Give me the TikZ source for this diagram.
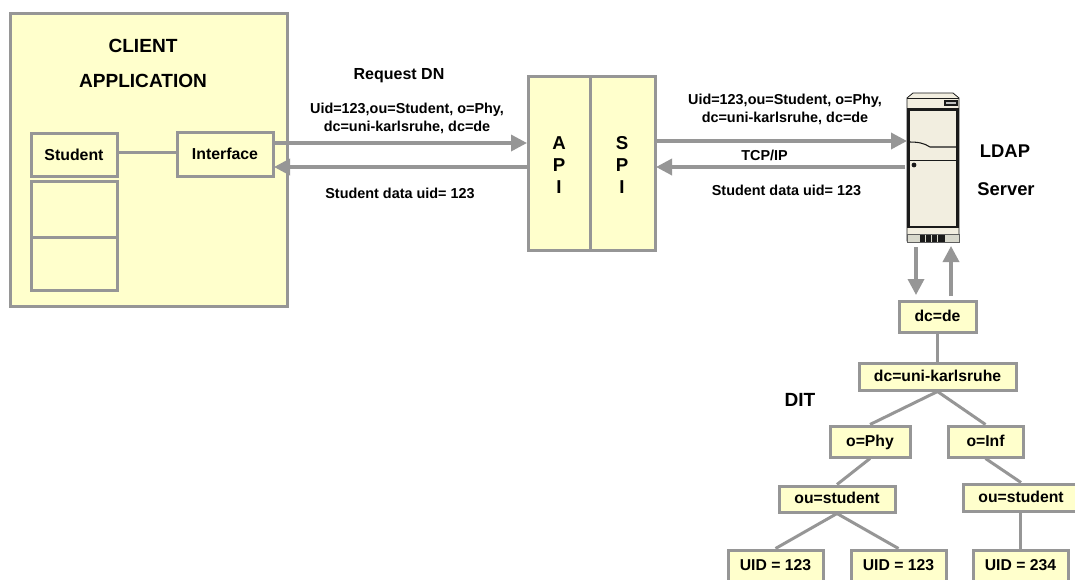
\documentclass[tikz,border=0pt]{standalone}
\usepackage{fontspec}
\setmainfont{Liberation Sans}
\usetikzlibrary{arrows.meta}
\definecolor{boxfill}{HTML}{FFFFCC}
\definecolor{boxline}{HTML}{969696}
\definecolor{srvfill}{HTML}{F2EEE0}
\definecolor{srvdark}{HTML}{1A1A1A}
\definecolor{srvbase}{HTML}{D8D8CC}
\tikzset{
  x=0.75pt,y=-0.75pt,
  pane/.style={draw=boxline,fill=boxfill,line width=2.25pt},
  treebox/.style={draw=boxline,fill=boxfill,line width=2.25pt,font=\bfseries\fontsize{11.8}{13}\selectfont,inner sep=0pt,anchor=center,text height=0.72em,text depth=0pt},
  heading/.style={font=\bfseries\fontsize{14.3}{16}\selectfont,inner sep=0pt,align=center},
  small/.style={font=\bfseries\fontsize{10.8}{13.5}\selectfont,inner sep=0pt,align=center},
  boxtext/.style={font=\bfseries\fontsize{11.9}{14}\selectfont,inner sep=0pt,align=center},
  link/.style={draw=boxline,line width=2.25pt},
  flow/.style={draw=boxline,line width=2.6pt,-{Triangle[length=12pt,width=12pt]}},
}
\newcommand{\tbox}[5]{\node[treebox,minimum width=#3*0.75pt,minimum height=#4*0.75pt] (#1) at (#2) {#5};}
\begin{document}
\begin{tikzpicture}
\useasboundingbox (0,0) rectangle (1075,579);
\clip (0,0) rectangle (1075,579);
% client
\node[pane,minimum width=207.75pt,minimum height=219.75pt,inner sep=0pt] (client) at (148.5,159.5) {};
\node[heading] (t1) at (143,46) {CLIENT};
\node[heading] (t2) at (143,81) {APPLICATION};
\node[pane,minimum width=64.5pt,minimum height=32.25pt,inner sep=0pt,boxtext] (student) at (74,155) {Student};
\node[pane,minimum width=64.5pt,minimum height=42pt,inner sep=0pt] (row2) at (74,209) {};
\node[pane,minimum width=64.5pt,minimum height=39.75pt,inner sep=0pt] (row3) at (74,264) {};
\node[pane,minimum width=72pt,minimum height=33pt,inner sep=0pt,boxtext] (iface) at (225,154) {Interface};
\draw[link] (student.east |- 0,152) -- (iface.west |- 0,152);
% API/SPI
\node[pane,minimum width=46.5pt,minimum height=130.5pt,inner sep=0pt] (api) at (559,163) {};
\node[pane,minimum width=48.75pt,minimum height=130.5pt,inner sep=0pt] (spi) at (622.5,163) {};
\node[heading,align=center,font=\bfseries\fontsize{14}{16.5}\selectfont] (apit) at (559,165) {A\\P\\I};
\node[heading,align=center,font=\bfseries\fontsize{14}{16.5}\selectfont] (spit) at (622,165) {S\\P\\I};
% server
\filldraw[fill=srvfill,draw=srvdark,line width=0.6pt] (907,98) -- (913,93) -- (953,93) -- (959,98) -- (959,241) -- (907,241) -- cycle;
\fill[srvdark] (907,108) rectangle (959,111);
\fill[srvdark] (907,108) rectangle (910,226);
\fill[srvdark] (956,108) rectangle (959,226);
\draw[srvdark,line width=0.6pt] (907,98) -- (959,98);
\draw[srvdark,line width=0.8pt] (945,101) rectangle (957,105);
\fill[boxline!60] (946,102) rectangle (956,104);
\draw[srvdark,line width=0.8pt] (909,142) .. controls (918,142) and (924,143) .. (930,147) -- (957,147);
\draw[srvdark,line width=0.8pt] (909,160.5) -- (957,160.5);
\fill[srvdark] (914,165) circle (2.4);
\fill[srvdark] (907,226) rectangle (959,228);
\filldraw[fill=srvbase,draw=srvdark!70,line width=0.5pt] (907,234) rectangle (959,242);
\fill[srvdark] (920,234.5) rectangle (945,241.5);
\foreach \xx in {925,931,937} \draw[srvbase,line width=0.5pt] (\xx,234.5) -- (\xx,241.5);
\coordinate (srvd) at (916,247);
\coordinate (srvu) at (951,246);
% arrows
\coordinate (a1) at (274,143);\coordinate (a2) at (527,143);
\coordinate (a3) at (527,167);\coordinate (a4) at (274,167);
\coordinate (a5) at (656,141);\coordinate (a6) at (907,141);
\coordinate (a7) at (905,167);\coordinate (a8) at (656,167);
\draw[flow] (a1) -- (a2);
\draw[flow] (a3) -- (a4);
\draw[flow] (a5) -- (a6);
\draw[flow] (a7) -- (a8);
\coordinate (d1) at (916,295);\coordinate (u1) at (951,296);
\draw[flow] (srvd) -- (d1);
\draw[flow] (u1) -- (srvu);
% labels
\node[small,font=\bfseries\fontsize{12}{14}\selectfont] (l1) at (399,76) {Request DN};
\node[small] (l2) at (407,118) {Uid=123,ou=Student, o=Phy,\\dc=uni-karlsruhe, dc=de};
\node[small] (l3) at (400,193) {Student data uid= 123};
\node[small] (l4) at (785,109.5) {Uid=123,ou=Student, o=Phy,\\dc=uni-karlsruhe, dc=de};
\node[small] (l5) at (764.5,155) {TCP/IP};
\node[small] (l6) at (786.5,190) {Student data uid= 123};
\node[heading,font=\bfseries\fontsize{13.8}{16}\selectfont] (l7) at (1005,151) {LDAP};
\node[heading,font=\bfseries\fontsize{13.8}{16}\selectfont] (l8) at (1006,189) {Server};
\node[heading] (l9) at (800,400) {DIT};
% tree
\tbox{de}{937.5,316.5}{77}{31}{dc=de}
\tbox{uni}{937.5,376.5}{157}{27}{dc=uni-karlsruhe}
\tbox{phy}{870,441.5}{80}{31}{o=Phy}
\tbox{inf}{985.5,441.5}{75}{31}{o=Inf}
\tbox{ou1}{837,499}{116}{26}{ou=student}
\tbox{ou2}{1021,497.5}{116}{27}{ou=student}
\tbox{u1}{775.5,566}{95}{32}{UID = 123}
\tbox{u2}{898.5,566}{95}{32}{UID = 123}
\tbox{u3}{1020.5,566}{95}{32}{UID = 234}
\draw[link] (de) -- (uni);
\draw[link] (uni.south) -- (phy.north);
\draw[link] (uni.south) -- (inf.north);
\draw[link] (phy.south) -- (ou1.north);
\draw[link] (inf.south) -- (ou2.north);
\draw[link] (ou1.south) -- (u1.north);
\draw[link] (ou1.south) -- (u2.north);
\draw[link] (u3.north) -- (u3.north |- ou2.south);
\end{tikzpicture}
\end{document}
